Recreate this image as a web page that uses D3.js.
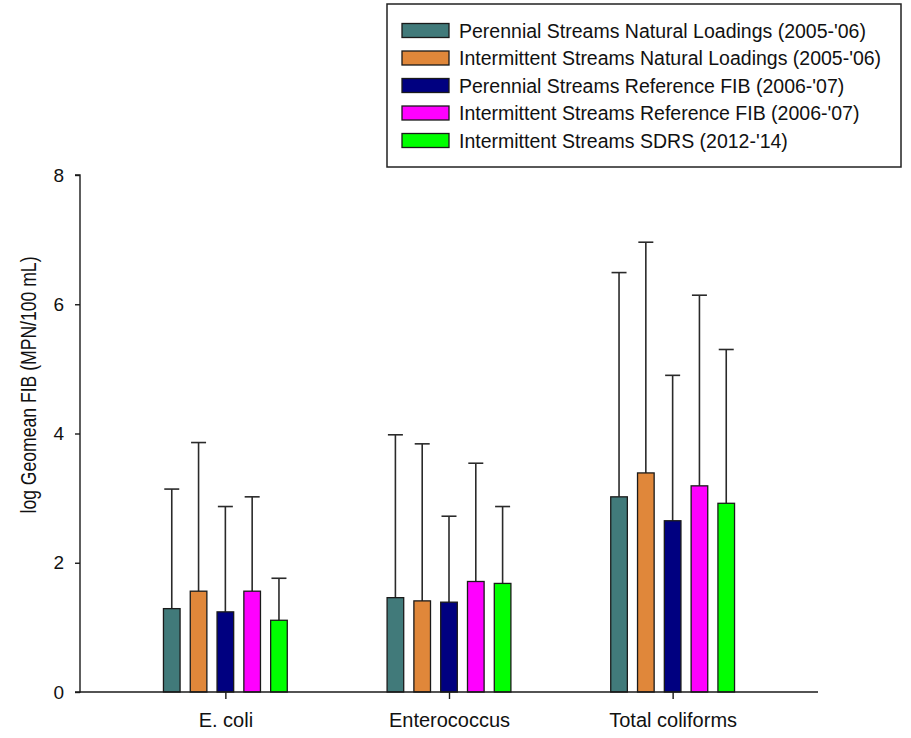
<!DOCTYPE html>
<html>
<head>
<meta charset="utf-8">
<script src="https://cdn.jsdelivr.net/npm/d3@7"></script>
<style>
  html, body { margin: 0; padding: 0; background: #fff; }
  svg { display: block; font-family: "Liberation Sans", Arial, sans-serif; }
</style>
</head>
<body>
<svg id="chart" width="911" height="738"></svg>
<script>
// Indicator groups along the x axis
const categories = ["E. coli", "Enterococcus", "Total coliforms"];

// Study series (legend order)
const seriesNames = [
  "Perennial Streams Natural Loadings (2005-'06)",
  "Intermittent Streams Natural Loadings (2005-'06)",
  "Perennial Streams Reference FIB (2006-'07)",
  "Intermittent Streams Reference FIB (2006-'07)",
  "Intermittent Streams SDRS (2012-'14)"
];
const seriesColors = ["#417a7a", "#e0873a", "#000080", "#ff00ff", "#00ff00"];

// log geomean FIB per series, one value per category
const perennialNatural     = [1.29, 1.46, 3.02];
const intermittentNatural  = [1.56, 1.41, 3.39];
const perennialReference   = [1.24, 1.39, 2.65];
const intermittentReference= [1.56, 1.71, 3.19];
const intermittentSDRS     = [1.11, 1.68, 2.92];

// upper error (standard deviation) per series
const errPerennialNatural     = [1.85, 2.52, 3.47];
const errIntermittentNatural  = [2.30, 2.43, 3.57];
const errPerennialReference   = [1.63, 1.33, 2.25];
const errIntermittentReference= [1.46, 1.83, 2.95];
const errIntermittentSDRS     = [0.65, 1.19, 2.38];

const yTicks = [0, 2, 4, 6, 8];

const means = [perennialNatural, intermittentNatural, perennialReference, intermittentReference, intermittentSDRS];
const errs  = [errPerennialNatural, errIntermittentNatural, errPerennialReference, errIntermittentReference, errIntermittentSDRS];

const rows = [];
seriesNames.forEach((s, si) => {
  categories.forEach((c, ci) => {
    rows.push({ series: s, si, category: c, value: means[si][ci], err: errs[si][ci] });
  });
});

const svg = d3.select("#chart");
const plotLeft = 80, plotRight = 818, plotTop = 175, plotBottom = 692;
const fontFamily = "'Liberation Sans', Arial, sans-serif";

const x = d3.scalePoint().domain(categories).range([plotLeft, plotRight]).padding(0.65);
const inner = d3.scaleBand().domain(seriesNames).range([-67, 67])
  .paddingInner(0.38).paddingOuter(0.19);
const y = d3.scaleLinear().domain([0, 8]).range([plotBottom, plotTop]);

const ink = "#1a1a1a";

// error bars (upper only)
const capW = 15;
const eb = svg.append("g").attr("stroke", "#2a2a2a").attr("stroke-width", 1.6).attr("fill", "none");
rows.forEach(d => {
  const cx = x(d.category) + inner(d.series) + inner.bandwidth() / 2;
  eb.append("line").attr("x1", cx).attr("x2", cx)
    .attr("y1", y(d.value)).attr("y2", y(d.value + d.err));
  eb.append("line").attr("x1", cx - capW / 2).attr("x2", cx + capW / 2)
    .attr("y1", y(d.value + d.err)).attr("y2", y(d.value + d.err));
});

// bars
svg.append("g").selectAll("rect").data(rows).join("rect")
  .attr("x", d => x(d.category) + inner(d.series))
  .attr("y", d => y(d.value))
  .attr("width", inner.bandwidth())
  .attr("height", d => y(0) - y(d.value))
  .attr("fill", d => seriesColors[d.si])
  .attr("stroke", ink)
  .attr("stroke-width", 1.3);

// y axis
const yAxis = svg.append("g").attr("transform", `translate(${plotLeft},0)`)
  .call(d3.axisLeft(y).tickValues(yTicks).tickSize(5).tickPadding(11).tickFormat(d3.format("d")));
yAxis.select(".domain").attr("stroke", ink).attr("stroke-width", 1.4).attr("d", `M-5,${plotTop}H0V${plotBottom}H-5`);
yAxis.selectAll(".tick line").attr("stroke", ink).attr("stroke-width", 1.4);
yAxis.selectAll(".tick text").attr("fill", "#111").style("font-size", "19px")
  .style("font-family", fontFamily);

// x axis
const xAxis = svg.append("g").attr("transform", `translate(0,${plotBottom})`)
  .call(d3.axisBottom(x).tickSize(7).tickPadding(14));
xAxis.select(".domain").attr("stroke", ink).attr("stroke-width", 1.4).attr("d", `M${plotLeft},0H${plotRight}`);
xAxis.selectAll(".tick line").attr("stroke", ink).attr("stroke-width", 1.4);
xAxis.selectAll(".tick text").attr("fill", "#111").style("font-size", "20px")
  .style("font-family", fontFamily);

// y axis title
svg.append("text")
  .attr("transform", `translate(36,385) rotate(-90)`)
  .attr("text-anchor", "middle")
  .attr("fill", "#111")
  .style("font-size", "22px")
  .attr("textLength", 257)
  .attr("lengthAdjust", "spacingAndGlyphs")
  .text("log Geomean FIB (MPN/100 mL)");

// legend
const lg = svg.append("g");
lg.append("rect").attr("x", 387).attr("y", 4).attr("width", 514).attr("height", 163)
  .attr("fill", "#fff").attr("stroke", "#222").attr("stroke-width", 1.5);
const rowY = d3.scalePoint().domain(seriesNames).range([30.5, 140.5]);
const items = lg.selectAll("g.item").data(seriesNames).join("g").attr("class", "item")
  .attr("transform", d => `translate(0,${rowY(d)})`);
items.append("rect").attr("x", 402).attr("y", -7).attr("width", 47).attr("height", 14)
  .attr("fill", (d, i) => seriesColors[i]).attr("stroke", ink).attr("stroke-width", 1.3);
items.append("text").attr("x", 459).attr("y", 0).attr("dy", "0.36em")
  .attr("fill", "#111").style("font-size", "19.5px")
  .text(d => d);
</script>
</body>
</html>
